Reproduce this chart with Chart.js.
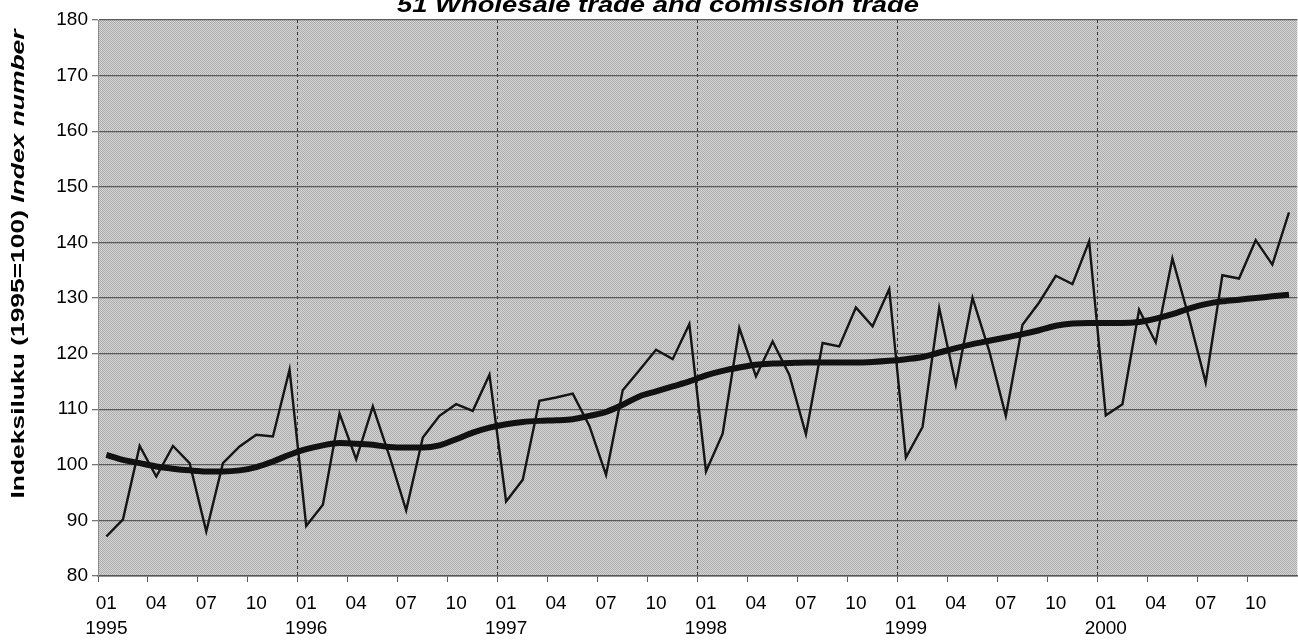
<!DOCTYPE html>
<html>
<head>
<meta charset="utf-8">
<script src="https://cdn.jsdelivr.net/npm/chart.js@4/dist/chart.umd.min.js"></script>
<style>
html,body{margin:0;padding:0;background:#ffffff;}
#wrap{width:1298px;height:640px;position:relative;}
</style>
</head>
<body>
<div id="wrap"><canvas id="c"></canvas></div>
<script>
// ---- data ----
const years = ['1995', '1996', '1997', '1998', '1999', '2000'];
const months = ['01', '02', '03', '04', '05', '06', '07', '08', '09', '10', '11', '12'];
const labelledMonths = ['01', '04', '07', '10'];
const yTicks = [80, 90, 100, 110, 120, 130, 140, 150, 160, 170, 180];

const indexValues = [
  87.1, 90.2, 103.4, 97.9, 103.4, 100.3, 88.0, 100.3, 103.3, 105.4, 105.1, 117.1,
  89.0, 92.8, 109.2, 101.0, 110.5, 101.5, 91.8, 104.9, 108.8, 110.9, 109.7, 116.2,
  93.4, 97.3, 111.5, 112.1, 112.8, 107.0, 98.2, 113.4, 117.0, 120.7, 119.0, 125.3,
  98.8, 105.6, 124.6, 115.9, 122.2, 116.2, 105.5, 121.9, 121.3, 128.3, 124.9, 131.6,
  101.3, 106.8, 128.2, 114.4, 130.0, 120.5, 108.8, 125.2, 129.2, 134.0, 132.5, 140.2,
  108.9, 110.9, 127.9, 122.0, 137.1, 126.4, 114.8, 134.1, 133.5, 140.4, 136.0, 145.4
];
const trendValues = [
  101.8, 100.9, 100.3, 99.7, 99.3, 99.0, 98.8, 98.8, 99.0, 99.6, 100.6, 101.8,
  102.8, 103.5, 103.9, 103.8, 103.6, 103.2, 103.1, 103.1, 103.5, 104.6, 105.8, 106.7,
  107.3, 107.7, 107.9, 108.0, 108.2, 108.8, 109.5, 110.8, 112.3, 113.2, 114.1, 115.0,
  116.1, 116.9, 117.5, 118.0, 118.2, 118.3, 118.4, 118.4, 118.4, 118.4, 118.5, 118.7,
  119.0, 119.4, 120.2, 121.0, 121.7, 122.3, 122.9, 123.5, 124.2, 125.0, 125.4, 125.5,
  125.5, 125.5, 125.7, 126.3, 127.1, 128.1, 128.9, 129.4, 129.7, 130.0, 130.3, 130.6
];

const chartTitle = '51 Wholesale trade and comission trade';
const yTitlePlain = 'Indeksiluku (1995=100) ';
const yTitleItalic = 'Index number';

const categories = years.flatMap(y => months.map(m => y + '-' + m));

// ---- stippled background pattern ----
function makePattern(ctx) {
  const p = document.createElement('canvas');
  p.width = 2; p.height = 2;
  const pc = p.getContext('2d');
  pc.fillStyle = '#d4d4d4'; pc.fillRect(0, 0, 2, 2);
  pc.fillStyle = '#adadad'; pc.fillRect(0, 0, 1, 1); pc.fillRect(1, 1, 1, 1);
  return ctx.createPattern(p, 'repeat');
}

const bgPlugin = {
  id: 'bg',
  beforeDraw(chart) {
    const {ctx, chartArea: a} = chart;
    ctx.save();
    ctx.fillStyle = makePattern(ctx);
    ctx.fillRect(a.left, a.top, a.right - a.left, a.bottom - a.top);
    ctx.restore();
  }
};

const textPlugin = {
  id: 'texts',
  afterDraw(chart) {
    const ctx = chart.ctx;
    // chart title (top is cropped in the reference)
    ctx.save();
    ctx.fillStyle = '#000';
    ctx.font = 'italic bold 22px "Liberation Sans", Arial, sans-serif';
    ctx.textBaseline = 'alphabetic';
    ctx.textAlign = 'left';
    const tw = ctx.measureText(chartTitle).width;
    const tk = 522 / tw;
    ctx.translate(658, 12);
    ctx.scale(tk, 1);
    ctx.fillText(chartTitle, -tw / 2, 0);
    ctx.restore();

    // rotated y-axis title, mixed style
    ctx.save();
    ctx.fillStyle = '#000';
    ctx.textBaseline = 'middle';
    ctx.textAlign = 'left';
    const f1 = 'bold 18px "Liberation Sans", Arial, sans-serif';
    const f2 = 'italic bold 18px "Liberation Sans", Arial, sans-serif';
    ctx.font = f1; const w1 = ctx.measureText(yTitlePlain).width;
    ctx.font = f2; const w2 = ctx.measureText(yTitleItalic).width;
    const total = w1 + w2;
    const k = 469 / total;
    ctx.translate(19, 264);
    ctx.rotate(-Math.PI / 2);
    ctx.scale(k, 1);
    ctx.font = f1; ctx.fillText(yTitlePlain, -total / 2, 0);
    ctx.font = f2; ctx.fillText(yTitleItalic, -total / 2 + w1, 0);
    ctx.restore();
  }
};

const tickFont = {family: '"Liberation Sans", Arial, sans-serif', size: 19, lineHeight: 1.33};

new Chart(document.getElementById('c'), {
  type: 'line',
  data: {
    labels: categories,
    datasets: [
      {
        label: 'Trend',
        data: trendValues,
        borderColor: '#111111',
        borderWidth: 6,
        cubicInterpolationMode: 'monotone',
        pointRadius: 0,
        fill: false
      },
      {
        label: 'Index',
        data: indexValues,
        borderColor: '#151515',
        borderWidth: 2.4,
        tension: 0,
        pointRadius: 0,
        fill: false
      }
    ]
  },
  options: {
    responsive: true,
    maintainAspectRatio: false,
    animation: false,
    events: [],
    layout: {padding: {top: 20, left: 40, right: 0, bottom: 0}},
    plugins: {legend: {display: false}, tooltip: {enabled: false}, title: {display: false}},
    scales: {
      x: {
        type: 'category',
        offset: true,
        afterFit(s) { s.height = 64; },
        grid: {
          offset: true,
          drawOnChartArea: true,
          color: c => (c.index % 12 === 0 && c.index !== 0 && c.index < categories.length) ? '#3a3a3a' : 'rgba(0,0,0,0)',
          tickColor: c => (c.index % 3 === 0) ? '#555555' : 'rgba(0,0,0,0)',
          tickLength: 6,
          lineWidth: 1
        },
        border: {display: true, color: '#555555', width: 1.5, dash: [3, 3]},
        ticks: {
          autoSkip: false,
          maxRotation: 0,
          minRotation: 0,
          padding: 9,
          color: '#000',
          font: tickFont,
          callback: (v, i) => {
            const [y, m] = categories[i].split('-');
            if (!labelledMonths.includes(m)) return '';
            return m === '01' ? [m, y] : m;
          }
        }
      },
      y: {
        min: yTicks[0],
        max: yTicks[yTicks.length - 1],
        afterFit(s) { s.width = 58; },
        afterBuildTicks(s) { s.ticks = yTicks.map(v => ({value: v})); },
        grid: {color: '#5a5a5a', lineWidth: 1.3, tickLength: 6, tickColor: '#777777'},
        border: {display: true, color: '#8a8a8a', width: 1},
        ticks: {color: '#000', font: {family: tickFont.family, size: 19}, padding: 4}
      }
    }
  },
  plugins: [bgPlugin, textPlugin]
});
</script>
</body>
</html>
